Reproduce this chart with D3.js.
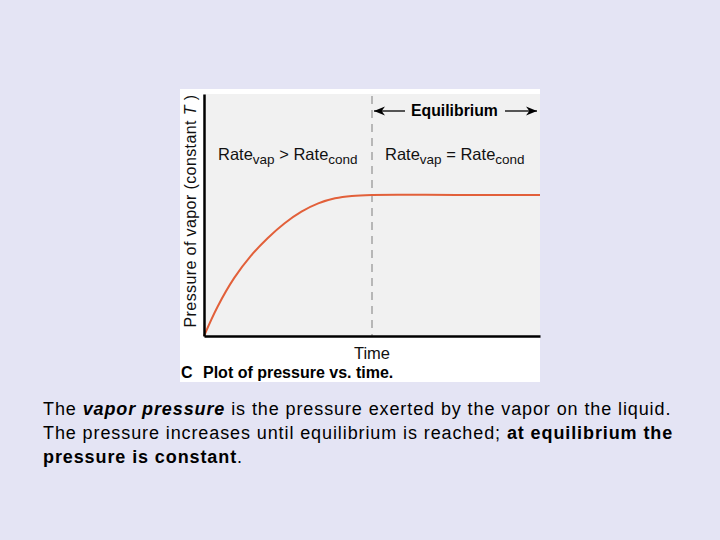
<!DOCTYPE html>
<html><head><meta charset="utf-8">
<script src="https://cdn.jsdelivr.net/npm/d3@7"></script>
<style>html,body{margin:0;padding:0;background:#e4e4f4;}svg{display:block;font-family:Arial,"Liberation Sans",sans-serif;}</style>
</head><body>
<svg id="c" width="720" height="540"></svg>
<script>
const timeValues = [0, 0.4, 0.9, 1.4, 1.9, 2.4, 2.9, 3.4, 3.9, 4.4, 5, 7.5, 10];
const pressureValues = [0, 0.12, 0.24, 0.332, 0.405, 0.466, 0.514, 0.548, 0.569, 0.579, 0.583, 0.583, 0.583];
const equilibriumTime = 5;

const svg = d3.select("#c");
svg.append("rect").attr("width",720).attr("height",540).attr("fill","#e4e4f4");
// image panel
svg.append("rect").attr("x",180).attr("y",89).attr("width",360).attr("height",293).attr("fill","#ffffff");
const L=204, R=540, T=94, B=336;
svg.append("rect").attr("x",L).attr("y",T).attr("width",R-L).attr("height",B-T).attr("fill","#f1f1f1");

const x = d3.scaleLinear().domain([0,10]).range([L,R]);
const y = d3.scaleLinear().domain([0,1]).range([B,T]);

// dashed equilibrium line
svg.append("line").attr("x1",x(equilibriumTime)).attr("x2",x(equilibriumTime))
  .attr("y1",T+2).attr("y2",B).attr("stroke","#999").attr("stroke-width",1.3).attr("stroke-dasharray","8,6");

const line = d3.line().x((d,i)=>x(timeValues[i])).y(d=>y(d)).curve(d3.curveCatmullRom.alpha(0.5));
svg.append("path").attr("d",line(pressureValues)).attr("fill","none").attr("stroke","#e2603a").attr("stroke-width",2);

// axes
const xAxis = d3.axisBottom(x).tickValues([]).tickSizeOuter(0);
const yAxis = d3.axisLeft(y).tickValues([]).tickSizeOuter(0);
svg.append("g").attr("transform",`translate(0,${B})`).call(xAxis).select(".domain").attr("stroke","#000").attr("stroke-width",2.5);
svg.append("g").attr("transform",`translate(${L},0)`).call(yAxis).select(".domain").attr("stroke","#000").attr("stroke-width",2.5);

// labels
const yl = svg.append("text").attr("transform",`translate(196,${(T+B)/2-4}) rotate(-90)`).attr("text-anchor","middle")
  .attr("font-size",16).attr("letter-spacing",0.4).attr("fill","#111");
yl.append("tspan").text("Pressure of vapor (constant ");
yl.append("tspan").attr("font-style","italic").text("T");
yl.append("tspan").text(" )");

svg.append("text").attr("x",x(equilibriumTime)).attr("y",359).attr("text-anchor","middle").attr("font-size",16.5).attr("fill","#111").text("Time");
svg.append("text").attr("x",181).attr("y",378).attr("font-size",16).attr("font-weight","bold").attr("fill","#000").text("C");
svg.append("text").attr("x",203).attr("y",378).attr("font-size",16).attr("font-weight","bold").attr("fill","#000").text("Plot of pressure vs. time.");

function rate(xp, sym){
  const t = svg.append("text").attr("x",xp).attr("y",160).attr("font-size",16.5).attr("fill","#111");
  t.append("tspan").text("Rate");
  t.append("tspan").attr("font-size",13.5).attr("dy",4).text("vap");
  t.append("tspan").attr("dy",-4).text(" "+sym+" ");
  t.append("tspan").text("Rate");
  t.append("tspan").attr("font-size",13.5).attr("dy",4).text("cond");
}
rate(218,">");
rate(385,"=");

// Equilibrium arrow
svg.append("defs").append("marker").attr("id","ah").attr("viewBox","0 0 10 10").attr("refX",10).attr("refY",5)
  .attr("markerWidth",11).attr("markerHeight",11).attr("markerUnits","userSpaceOnUse").attr("orient","auto-start-reverse")
  .append("path").attr("d","M0,1 L10,5 L0,9 L3,5 Z").attr("fill","#000");
svg.append("line").attr("x1",374).attr("x2",405).attr("y1",111).attr("y2",111).attr("stroke","#000").attr("stroke-width",1.3).attr("marker-start","url(#ah)");
svg.append("line").attr("x1",505).attr("x2",537).attr("y1",111).attr("y2",111).attr("stroke","#000").attr("stroke-width",1.3).attr("marker-end","url(#ah)");
svg.append("text").attr("x",411).attr("y",116).attr("font-size",15.8).attr("font-weight","bold").attr("fill","#000").text("Equilibrium");

// caption
const cap = svg.append("g").attr("font-size",18).attr("letter-spacing",0.9).attr("fill","#000");
const l1 = cap.append("text").attr("x",43).attr("y",415);
l1.append("tspan").text("The ");
l1.append("tspan").attr("font-weight","bold").attr("font-style","italic").text("vapor pressure");
l1.append("tspan").text(" is the pressure exerted by the vapor on the liquid.");
const l2 = cap.append("text").attr("x",43).attr("y",439);
l2.append("tspan").text("The pressure increases until equilibrium is reached; ");
l2.append("tspan").attr("font-weight","bold").text("at equilibrium the");
const l3 = cap.append("text").attr("x",43).attr("y",463);
l3.append("tspan").attr("font-weight","bold").text("pressure is constant");
l3.append("tspan").text(".");
</script>
</body></html>
